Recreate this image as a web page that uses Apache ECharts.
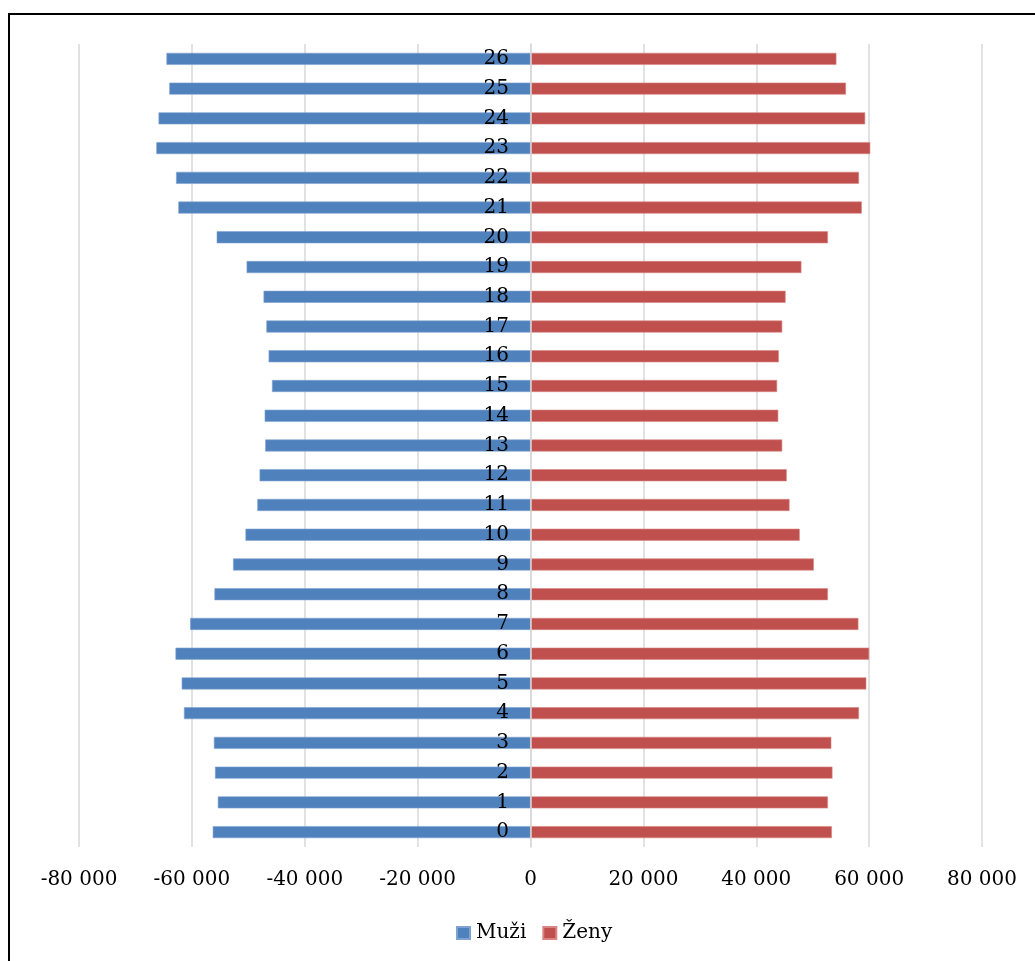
<!DOCTYPE html>
<html>
<head>
<meta charset="utf-8">
<script src="https://cdn.jsdelivr.net/npm/echarts@6/dist/echarts.min.js"></script>
<style>
html,body{margin:0;padding:0;background:#fff;}
#chart{width:1035px;height:961px;}
</style>
</head>
<body>
<div id="chart"></div>
<script>
const categories = ['0','1','2','3','4','5','6','7','8','9','10','11','12','13','14','15','16','17','18','19','20','21','22','23','24','25','26'];
const muzi = [-56300,-55400,-55900,-56100,-61400,-61800,-62900,-60300,-56000,-52700,-50500,-48400,-48000,-47000,-47100,-45800,-46400,-46800,-47300,-50300,-55600,-62400,-62800,-66300,-65900,-64000,-64500];
const zeny = [53400,52700,53500,53300,58200,59500,60000,58100,52700,50200,47700,45900,45400,44600,43900,43700,44000,44600,45200,48000,52700,58700,58200,60200,59300,55900,54200];
const seriesNames = ['Muži','Ženy'];
const xTicks = {min:-80000, max:80000, interval:20000};

const FONT = '"DejaVu Serif", serif';
function fmt(v){
  const s = Math.abs(v).toString().replace(/\B(?=(\d{3})+(?!\d))/g, ' ');
  return (v < 0 ? '-' : '') + s;
}

const chart = echarts.init(document.getElementById('chart'), null, {renderer:'canvas'});
chart.setOption({
  animation:false,
  backgroundColor:'#fff',
  graphic:[{
    type:'rect', silent:true, z:-1,
    shape:{x:9, y:14, width:1100, height:1000},
    style:{fill:'none', stroke:'#000', lineWidth:2}
  }],
  grid:{left:79, right:53, top:44, bottom:114, containLabel:false},
  legend:{
    data:seriesNames,
    top:918, left:451,
    icon:'rect', itemWidth:13, itemHeight:12, itemGap:16,
    textStyle:{fontFamily:FONT, fontSize:20, color:'#000', padding:[0,0,0,1]}
  },
  xAxis:{
    type:'value', min:xTicks.min, max:xTicks.max, interval:xTicks.interval,
    axisLine:{show:false}, axisTick:{show:false},
    splitLine:{show:true, lineStyle:{color:'#d9d9d9', width:1.5}},
    axisLabel:{fontFamily:FONT, fontSize:20, color:'#000', margin:23, formatter:fmt}
  },
  yAxis:{
    type:'category', data:categories, z:10, position:'left', offset:-452,
    axisLine:{show:true, onZero:false, lineStyle:{color:'#d9d9d9', width:1.5}},
    axisTick:{show:false},
    axisLabel:{fontFamily:FONT, fontSize:20, color:'#000', margin:22}
  },
  series:[
    {name:seriesNames[0], type:'bar', data:muzi, barWidth:12, barGap:'-100%',
     itemStyle:{color:'#4f81bd', borderColor:'#7fa3d0', borderWidth:0.6}},
    {name:seriesNames[1], type:'bar', data:zeny, barWidth:12, barGap:'-100%',
     itemStyle:{color:'#c0504d', borderColor:'#d88583', borderWidth:0.6}}
  ]
});
</script>
</body>
</html>
